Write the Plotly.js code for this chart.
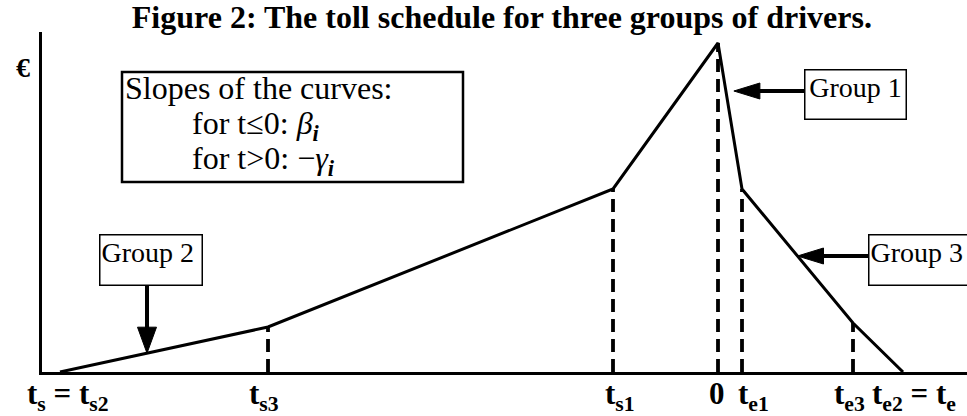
<!DOCTYPE html>
<html>
<head>
<meta charset="utf-8">
<script src="https://cdn.plot.ly/plotly-3.0.1.min.js"></script>
<style>
  html, body { margin: 0; padding: 0; background: #fff; }
  #chart { width: 967px; height: 416px; }
</style>
</head>
<body>
<div id="chart"></div>
<script>
// Toll schedule: break points of the piecewise-linear toll (time t, toll level)
const breakLabels = ['t<sub>s</sub> = t<sub>s2</sub>', 't<sub>s3</sub>', 't<sub>s1</sub>', '0', 't<sub>e1</sub>', 't<sub>e3</sub>', 't<sub>e2</sub> = t<sub>e</sub>'];
const breakTimes  = [-65.8, -45.0, -10.5, 0, 2.4, 13.5, 18.5];
const tollLevels  = [0, 4.5, 18.3, 32.9, 18.3, 4.9, 0];

// Which break points get a dashed drop line to the time axis
const dropIndex = [1, 2, 3, 4, 5];

// Call-out texts
const groupNames = ['Group 1', 'Group 2', 'Group 3'];
const slopeLines = [
  'Slopes of the curves:',
  'for t≤0: <i>β</i><sub><b><i>i</i></b></sub>',
  'for t>0: −<i>γ</i><sub><b><i>i</i></b></sub>'
];

const SERIF = '"Liberation Serif", "Times New Roman", Times, serif';
const BLACK = '#000';

// linear interpolation on the toll curve
function tollAt(t) {
  for (let i = 0; i < breakTimes.length - 1; i++) {
    const a = breakTimes[i], b = breakTimes[i + 1];
    if (t >= a && t <= b) {
      return tollLevels[i] + (tollLevels[i + 1] - tollLevels[i]) * (t - a) / (b - a);
    }
  }
  return 0;
}
// time on segment i at which the toll equals v
function timeOnSegment(i, v) {
  const a = breakTimes[i], b = breakTimes[i + 1];
  const ya = tollLevels[i], yb = tollLevels[i + 1];
  return a + (v - ya) * (b - a) / (yb - ya);
}

const dropX = [], dropY = [];
dropIndex.forEach(i => {
  dropX.push(breakTimes[i], breakTimes[i], null);
  dropY.push(0, tollLevels[i], null);
});

const traces = [
  {
    x: dropX, y: dropY, mode: 'lines', hoverinfo: 'skip',
    line: { color: BLACK, width: 3.8, dash: '13px,7px' }
  },
  {
    x: breakTimes, y: tollLevels, mode: 'lines', hoverinfo: 'skip',
    line: { color: BLACK, width: 3 }
  }
];

// arrow geometry (axis units: 1 unit = 10 px on both axes)
const HEAD_L = 2.6, HEAD_W = 0.8;
const shapes = [];
function leftArrow(x0, tipX, y) {
  shapes.push({ type: 'line', xref: 'x', yref: 'y', x0: x0, x1: tipX + HEAD_L - 0.2, y0: y, y1: y,
    line: { color: BLACK, width: 4 } });
  shapes.push({ type: 'path', xref: 'x', yref: 'y',
    path: `M${tipX},${y} L${tipX + HEAD_L},${y + HEAD_W} L${tipX + HEAD_L},${y - HEAD_W} Z`,
    fillcolor: BLACK, line: { color: BLACK, width: 1 } });
}
function downArrow(x, y0, tipY) {
  shapes.push({ type: 'line', xref: 'x', yref: 'y', x0: x, x1: x, y0: y0, y1: tipY + HEAD_L - 0.2,
    line: { color: BLACK, width: 4 } });
  shapes.push({ type: 'path', xref: 'x', yref: 'y',
    path: `M${x},${tipY} L${x - 0.95},${tipY + HEAD_L} L${x + 0.95},${tipY + HEAD_L} Z`,
    fillcolor: BLACK, line: { color: BLACK, width: 1 } });
}

// Group 1: steep post-peak segment
const g1y = 28.1;
leftArrow(8.6, timeOnSegment(3, g1y) + 0.8, g1y);
// Group 2: first pre-peak segment
const g2x = -57.1;
downArrow(g2x, 8.7, tollAt(g2x));
// Group 3: late post-peak segment
const g3y = 11.6;
leftArrow(15.0, timeOnSegment(4, g3y), g3y);

// frame of the slopes legend
shapes.push({ type: 'rect', xref: 'x', yref: 'y', x0: -59.6, x1: -25.5, y0: 19.0, y1: 30.0,
  line: { color: BLACK, width: 2.5 }, fillcolor: 'rgba(0,0,0,0)' });

const annotations = [];

// time-axis labels
const labelShift = [8, -4, 7, -1, 11, -4, -33];
breakLabels.forEach((lab, i) => {
  const last = i === breakLabels.length - 1;
  annotations.push({
    x: breakTimes[i], y: 0, xref: 'x', yref: 'y',
    text: lab, showarrow: false,
    xanchor: last ? 'left' : 'center', yanchor: 'top',
    xshift: labelShift[i], yshift: -2,
    font: { family: SERIF, size: 31, color: BLACK, weight: 'bold' }
  });
});

// currency symbol on the toll axis
annotations.push({
  x: -0.021, y: 0.897, xref: 'paper', yref: 'paper',
  text: '€', showarrow: false, xanchor: 'center', yanchor: 'middle',
  font: { family: SERIF, size: 28, color: BLACK, weight: 'bold' }
});

// slopes legend text, one line per annotation
const slopeX = [-59.5, -52.8, -52.8];
const slopeY = [28.4, 24.7, 21.2];
slopeLines.forEach((s, i) => {
  annotations.push({
    x: slopeX[i], y: slopeY[i], xref: 'x', yref: 'y', text: s, showarrow: false,
    xanchor: 'left', yanchor: 'middle',
    font: { family: SERIF, size: 32, color: BLACK }
  });
});

// group label boxes
annotations.push({
  x: 13.7, y: 27.8, xref: 'x', yref: 'y', text: groupNames[0], showarrow: false,
  width: 98, height: 46, borderwidth: 1.5, bordercolor: BLACK, borderpad: 1,
  align: 'center', valign: 'top', xanchor: 'center', yanchor: 'middle',
  font: { family: SERIF, size: 28, color: BLACK }
});
annotations.push({
  x: -56.75, y: 11.25, xref: 'x', yref: 'y', text: groupNames[1], showarrow: false,
  width: 99, height: 47, borderwidth: 1.5, bordercolor: BLACK, borderpad: 1,
  align: 'left', valign: 'top', xanchor: 'center', yanchor: 'middle',
  font: { family: SERIF, size: 28, color: BLACK }
});
annotations.push({
  x: 15.0, y: 11.25, xref: 'x', yref: 'y', text: groupNames[2], showarrow: false,
  width: 120, height: 47, borderwidth: 1.5, bordercolor: BLACK, borderpad: 1,
  align: 'left', valign: 'top', xanchor: 'left', yanchor: 'middle',
  font: { family: SERIF, size: 28, color: BLACK }
});

const layout = {
  width: 967, height: 416,
  margin: { l: 42, r: 0, t: 32, b: 44 },
  paper_bgcolor: '#fff', plot_bgcolor: '#fff',
  showlegend: false,
  title: {
    text: 'Figure 2: The toll schedule for three groups of drivers.',
    font: { family: SERIF, size: 32, color: BLACK, weight: 'bold' },
    x: 0.519, xanchor: 'center', xref: 'container',
    y: 0.96, yanchor: 'middle', yref: 'container'
  },
  xaxis: {
    range: [-67.6, 24.9], showgrid: false, zeroline: false,
    showticklabels: false, ticks: '', showline: true, linecolor: BLACK, linewidth: 3
  },
  yaxis: {
    range: [0, 34.0], showgrid: false, zeroline: false,
    showticklabels: false, ticks: '', showline: true, linecolor: BLACK, linewidth: 3
  },
  shapes: shapes,
  annotations: annotations
};

Plotly.newPlot('chart', traces, layout, { displayModeBar: false, staticPlot: true });
</script>
</body>
</html>
